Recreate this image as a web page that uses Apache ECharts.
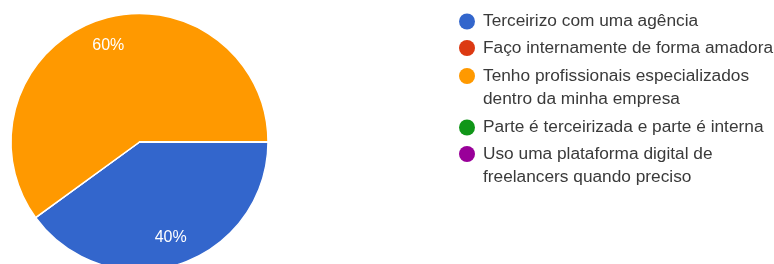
<!DOCTYPE html>
<html>
<head>
<meta charset="utf-8">
<script src="https://cdn.jsdelivr.net/npm/echarts@6/dist/echarts.min.js"></script>
<style>
  html, body { margin: 0; padding: 0; background: #fff; }
  #chart { width: 774px; height: 264px; }
</style>
</head>
<body>
<div id="chart"></div>
<script>
// respostas (percentual)
const categories = [
  'Terceirizo com uma agência',
  'Faço internamente de forma amadora',
  'Tenho profissionais especializados\ndentro da minha empresa',
  'Parte é terceirizada e parte é interna',
  'Uso uma plataforma digital de\nfreelancers quando preciso'
];
const values = [40, 0, 60, 0, 0];
const colors = ['#3366cc', '#dc3912', '#ff9900', '#109618', '#990099'];

// layout da legenda: centro vertical de cada bolinha
const legendRowY = [21.5, 48, 76, 127.5, 154];
const LINE_H = 23;

const center = [139.5, 142];
const R = 128.5;
const FONT = 'Arial, "Liberation Sans", sans-serif';

const chart = echarts.init(document.getElementById('chart'), null, { renderer: 'canvas' });

const pieData = categories.map((name, i) => ({
  name: name,
  value: values[i],
  itemStyle: { color: colors[i] }
}));

// uma legenda por item, pra alinhar a primeira linha com a bolinha
// (texto com várias linhas ganha uma linha vazia em cima, aí a 1a linha fica no meio)
const legends = categories.map((name, i) => {
  const extra = name.split('\n').length - 1;
  const totalLines = 1 + extra * 2;
  return {
    data: [name],
    orient: 'vertical',
    left: 459,
    top: legendRowY[i] - (totalLines * LINE_H) / 2,
    padding: 0,
    icon: 'circle',
    itemWidth: 16,
    itemHeight: 16,
    itemStyle: { borderWidth: 0 },
    selectedMode: false,
    formatter: n => '\n'.repeat(extra) + n,
    textStyle: {
      fontFamily: FONT,
      fontSize: 17.3,
      color: '#3a3a3a',
      lineHeight: LINE_H,
      padding: [0, 0, 0, 3]
    }
  };
});

chart.setOption({
  backgroundColor: '#fff',
  animation: false,
  legend: legends,
  series: [
    {
      type: 'pie',
      name: 'main',
      center: center,
      radius: [0, R],
      startAngle: 0,
      clockwise: true,
      data: pieData,
      label: { show: false },
      labelLine: { show: false },
      itemStyle: { borderColor: '#fff', borderWidth: 1.5 },
      emphasis: { disabled: true }
    },
    {
      // só pros rótulos de porcentagem, mais pra fora que o meio do raio
      type: 'pie',
      name: 'labels',
      center: center,
      radius: [67.5, R],
      startAngle: 0,
      clockwise: true,
      silent: true,
      legendHoverLink: false,
      data: pieData.map(d => ({ name: d.name, value: d.value })),
      itemStyle: { color: 'rgba(0,0,0,0)' },
      label: {
        show: true,
        position: 'inside',
        color: '#fff',
        fontFamily: FONT,
        fontSize: 16,
        formatter: p => p.value ? Math.round(p.percent) + '%' : ''
      },
      labelLine: { show: false },
      emphasis: { disabled: true }
    }
  ]
});
</script>
</body>
</html>
